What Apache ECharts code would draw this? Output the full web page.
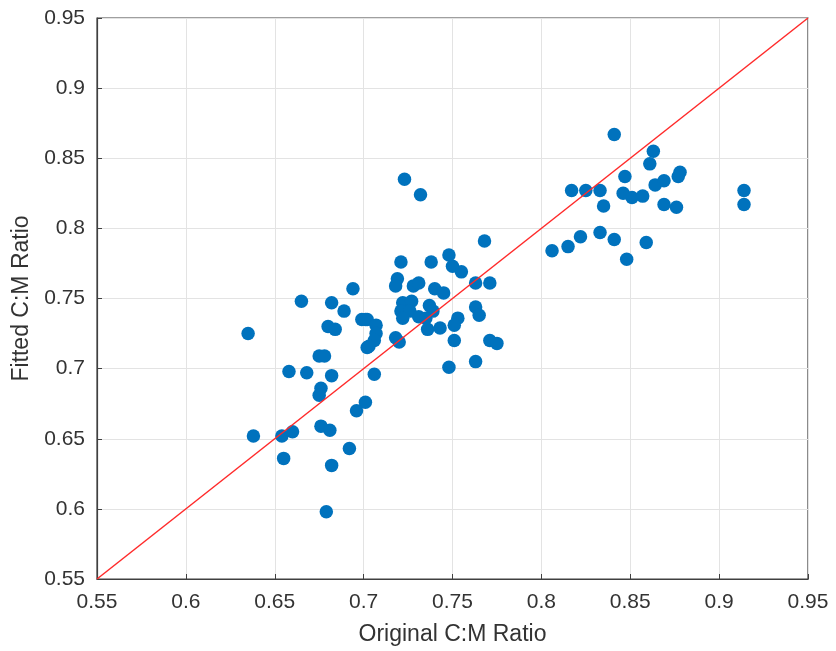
<!DOCTYPE html>
<html><head><meta charset="utf-8">
<script src="https://cdn.jsdelivr.net/npm/echarts@6/dist/echarts.min.js"></script>
<style>html,body{margin:0;padding:0;background:#fff}#c{width:836px;height:651px}</style>
</head><body><div id="c"></div>
<script>
const xLabel = 'Original C:M Ratio';
const yLabel = 'Fitted C:M Ratio';
const original = [
0.841,0.863,0.861,0.847,0.878,0.877,0.817,0.825,0.833,0.846,0.851,0.857,0.864,0.869,0.835,0.869,0.876,
0.806,0.815,0.822,0.833,0.841,0.859,0.848,0.914,0.914,
0.694,0.665,0.682,0.689,0.699,0.702,0.635,0.680,0.684,0.702,0.675,0.678,0.658,0.668,0.682,
0.706,0.676,0.675,0.701,0.696,0.638,0.654,0.660,0.676,0.681,0.692,0.655,0.682,0.679,
0.768,0.721,0.738,0.748,0.750,0.755,0.719,0.718,0.728,0.731,0.740,0.745,0.763,0.771,
0.722,0.727,0.721,0.726,0.722,0.731,0.737,0.739,0.735,
0.701,0.707,0.707,0.706,0.703,0.718,0.720,0.736,0.743,0.763,0.765,0.753,0.751,0.751,0.771,0.775,0.763,0.748,
0.723,0.732
];
const fitted = [
0.867,0.855,0.846,0.837,0.840,0.837,0.827,0.827,0.827,0.825,0.822,0.823,0.831,0.834,0.816,0.817,0.815,
0.784,0.787,0.794,0.797,0.792,0.790,0.778,0.827,0.817,
0.757,0.748,0.747,0.741,0.735,0.735,0.725,0.730,0.728,0.715,0.709,0.709,0.698,0.697,0.695,
0.696,0.686,0.681,0.676,0.670,0.652,0.652,0.655,0.659,0.656,0.643,0.636,0.631,0.598,
0.791,0.776,0.776,0.781,0.773,0.769,0.764,0.759,0.759,0.761,0.757,0.754,0.761,0.761,
0.747,0.748,0.741,0.741,0.736,0.737,0.745,0.741,0.736,
0.735,0.731,0.725,0.720,0.716,0.722,0.719,0.728,0.729,0.744,0.738,0.736,0.731,0.720,0.720,0.718,0.705,0.701,
0.835,0.824
];
const xTicks = [0.55,0.6,0.65,0.7,0.75,0.8,0.85,0.9,0.95];
const yTicks = [0.55,0.6,0.65,0.7,0.75,0.8,0.85,0.9,0.95];
const refLine = [0.55,0.95];

const pts = original.map((v,i)=>[v,fitted[i]]);
const fmt = v => (+v.toFixed(2)).toString();
const FONT = "'Liberation Sans', Arial, sans-serif";
const chart = echarts.init(document.getElementById('c'));
function axis(ticks, name, gap, margin){
  return {
    type:'value', min:ticks[0], max:ticks[ticks.length-1], interval:0.05,
    name:name, nameLocation:'middle', nameGap:gap,
    nameTextStyle:{color:'#333333',fontSize:23,fontFamily:FONT},
    axisLine:{show:true,onZero:false,lineStyle:{color:'#404040',width:1.2}},
    axisTick:{show:true,inside:true,length:5,lineStyle:{color:'#404040'}},
    splitLine:{show:true,lineStyle:{color:'#e3e3e3',width:1}},
    axisLabel:{color:'#333333',fontSize:21,fontFamily:FONT,margin:margin,formatter:fmt}
  };
}
chart.setOption({
  animation:false,
  grid:{left:97,right:28,top:18,bottom:72,show:true,borderColor:'#404040',borderWidth:1.2,backgroundColor:'#fff'},
  xAxis:axis(xTicks, xLabel, 44, 13),
  yAxis:axis(yTicks, yLabel, 61, 12),
  series:[
    {type:'scatter',data:pts,symbol:'circle',symbolSize:13.5,itemStyle:{color:'#0072BD',opacity:1},z:2},
    {type:'line',data:refLine.map(v=>[v,v]),symbol:'none',lineStyle:{color:'#ff2a2a',width:1.5},z:3}
  ]
});
</script></body></html>
